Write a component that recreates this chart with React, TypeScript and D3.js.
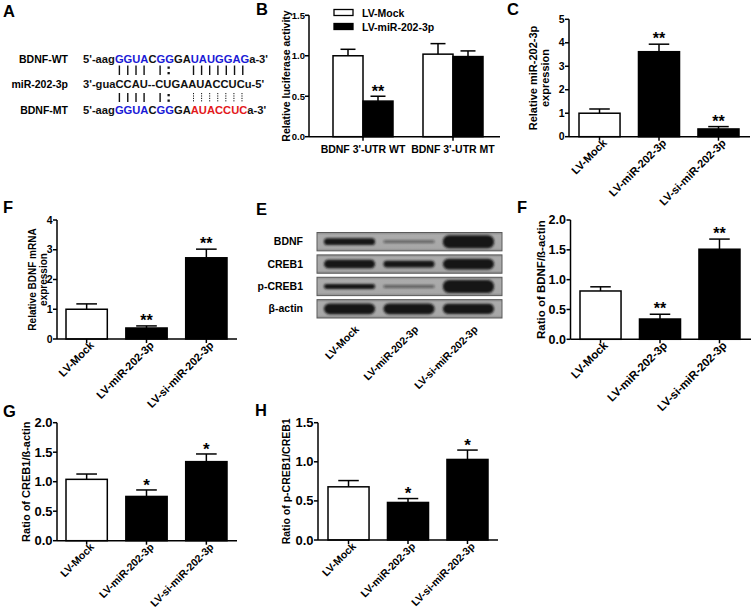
import React, { useLayoutEffect, useRef, useState } from "react";
import * as d3 from "d3";

const FONT = "'Liberation Sans', Arial, Helvetica, sans-serif";

// ---------- Panel A (sequence alignment) ----------
const seqLabels = ["BDNF-WT", "miR-202-3p", "BDNF-MT"];
const wtSegments: [string, string][] = [["5'-aag", "k"], ["GGUA", "b"], ["C", "k"], ["GG", "b"], ["GA", "k"], ["UAUGGAG", "b"], ["a-3'", "k"]];
const mirSegments: [string, string][] = [["3'-guaCCAU--CUGAAUACCUCu-5'", "k"]];
const mtSegments: [string, string][] = [["5'-aag", "k"], ["GGUA", "b"], ["C", "k"], ["GG", "b"], ["GA", "k"], ["AUACCUC", "r"], ["a-3'", "k"]];
const wtPairIdx = [6, 7, 8, 9, 11, 15, 16, 17, 18, 19, 20, 21];
const mirPairIdx = [6, 7, 8, 9, 12, 16, 17, 18, 19, 20, 21, 22];
const mtBroken = [false, false, false, false, false, true, true, true, true, true, true, true];
const wobbleWt = 12;
const wobbleMir = 13;

// ---------- Panel B ----------
const bGroups = ["BDNF 3'-UTR WT", "BDNF 3'-UTR MT"];
const bSeries = ["LV-Mock", "LV-miR-202-3p"];
const bMock = [1.0, 1.02];
const bMockErr = [0.08, 0.13];
const bMir = [0.44, 0.99];
const bMirErr = [0.06, 0.07];
const bMirSig = ["**", ""];
const bTicks = [0, 0.5, 1.0, 1.5];

// ---------- shared categories ----------
const groups = ["LV-Mock", "LV-miR-202-3p", "LV-si-miR-202-3p"];

// Panel C
const cVals = [1.0, 3.62, 0.33];
const cErr = [0.18, 0.32, 0.1];
const cSig = ["", "**", "**"];
const cTicks = [0, 1, 2, 3, 4, 5];

// Panel F (mRNA)
const fmVals = [1.0, 0.37, 2.73];
const fmErr = [0.18, 0.07, 0.29];
const fmSig = ["", "**", "**"];
const fmTicks = [0, 1, 2, 3, 4];

// Panel E (western blot) relative band intensities
const blotProteins = ["BDNF", "CREB1", "p-CREB1", "β-actin"];
const bandBDNF = [0.45, 0.12, 1.0];
const bandCREB1 = [0.62, 0.45, 0.8];
const bandPCREB1 = [0.3, 0.12, 1.0];
const bandActin = [0.8, 0.8, 0.75];

// Panel F (BDNF/β-actin)
const fbVals = [0.81, 0.34, 1.51];
const fbErr = [0.07, 0.08, 0.17];
const fbSig = ["", "**", "**"];
const fbTicks = [0, 0.5, 1.0, 1.5, 2.0];

// Panel G
const gVals = [1.04, 0.75, 1.34];
const gErr = [0.09, 0.11, 0.13];
const gSig = ["", "*", "*"];
const gTicks = [0, 0.5, 1.0, 1.5, 2.0];

// Panel H
const hVals = [0.68, 0.48, 1.03];
const hErr = [0.08, 0.05, 0.12];
const hSig = ["", "*", "*"];
const hTicks = [0, 0.5, 1.0, 1.5];

const SEQ_COLORS: Record<string, string> = { k: "#111", b: "#1a1ad6", r: "#e3191c" };

function Letter({ t, x, y }: { t: string; x: number; y: number }) {
  return (
    <text x={x} y={y} fontSize={16.5} fontWeight="bold" fontFamily={FONT}>
      {t}
    </text>
  );
}

function SequencePanel() {
  const wtRef = useRef<SVGTextElement>(null);
  const mirRef = useRef<SVGTextElement>(null);
  const mtRef = useRef<SVGTextElement>(null);
  const [pos, setPos] = useState<{ wt: number[]; mir: number[]; mt: number[] } | null>(null);
  useLayoutEffect(() => {
    const centers = (el: SVGTextElement | null) => {
      const out: number[] = [];
      if (!el) return out;
      const n = el.getNumberOfChars();
      for (let i = 0; i < n; i++) {
        const s = el.getStartPositionOfChar(i).x;
        const e = el.getEndPositionOfChar(i).x;
        out.push((s + e) / 2);
      }
      return out;
    };
    const measure = () => setPos({ wt: centers(wtRef.current), mir: centers(mirRef.current), mt: centers(mtRef.current) });
    measure();
    if ((document as any).fonts && (document as any).fonts.ready) (document as any).fonts.ready.then(measure);
  }, []);

  const seqX = 83;
  const rowsY = [62.5, 88, 114];
  const segs = [wtSegments, mirSegments, mtSegments];
  const refs = [wtRef, mirRef, mtRef];
  return (
    <g fontFamily={FONT} fontWeight="bold">
      {seqLabels.map((l, i) => (
        <text key={l} x={68} y={rowsY[i]} fontSize={10.5} textAnchor="end">
          {l}
        </text>
      ))}
      {segs.map((s, i) => (
        <text key={i} ref={refs[i]} x={seqX} y={rowsY[i]} fontSize={11.2}>
          {s.map(([t, c], j) => (
            <tspan key={j} fill={SEQ_COLORS[c]}>
              {t}
            </tspan>
          ))}
        </text>
      ))}
      {pos &&
        wtPairIdx.map((wi, k) => {
          const x1 = (pos.wt[wi] + pos.mir[mirPairIdx[k]]) / 2;
          const x2 = (pos.mt[wi] + pos.mir[mirPairIdx[k]]) / 2;
          return (
            <g key={k}>
              <line x1={x1} x2={x1} y1={65.5} y2={75} stroke="#111" strokeWidth={1.4} />
              <line
                x1={x2}
                x2={x2}
                y1={93}
                y2={102}
                stroke="#111"
                strokeWidth={mtBroken[k] ? 1 : 1.4}
                strokeDasharray={mtBroken[k] ? "1.2,1.2" : undefined}
              />
            </g>
          );
        })}
      {pos &&
        [0, 1].map((g) => {
          const x = g === 0 ? (pos.wt[wobbleWt] + pos.mir[wobbleMir]) / 2 : (pos.mt[wobbleWt] + pos.mir[wobbleMir]) / 2;
          const yb = g === 0 ? 66.5 : 94;
          return (
            <g key={g}>
              <rect x={x - 1} y={yb} width={2.3} height={2.3} fill="#111" />
              <rect x={x - 1} y={yb + 5.5} width={2.3} height={2.3} fill="#111" />
            </g>
          );
        })}
    </g>
  );
}

function PanelB() {
  const axisX = 309;
  const axisEnd = 500;
  const y0 = 136.7;
  const y = d3.scaleLinear().domain([0, 1.5]).range([y0, 15.3]);
  const gx = d3.scaleBand().domain(bGroups).range([333, 483]).paddingInner(1 / 3);
  const sx = d3.scaleBand().domain(bSeries).range([0, gx.bandwidth()]);
  const series = [
    { name: bSeries[0], vals: bMock, errs: bMockErr, fill: "#fff", sig: ["", ""] },
    { name: bSeries[1], vals: bMir, errs: bMirErr, fill: "#000", sig: bMirSig },
  ];
  const bw = sx.bandwidth();
  return (
    <g fontFamily={FONT} fontWeight="bold">
      {series.map((s) =>
        s.vals.map((v, i) => {
          const x = (gx(bGroups[i]) as number) + (sx(s.name) as number);
          const cx = x + bw / 2;
          const yt = y(v);
          const ye = y(v + s.errs[i]);
          return (
            <g key={s.name + i}>
              <line x1={cx} x2={cx} y1={yt} y2={ye} stroke="#000" strokeWidth={1.5} />
              <line x1={cx - bw / 4} x2={cx + bw / 4} y1={ye} y2={ye} stroke="#000" strokeWidth={1.5} />
              <rect x={x} y={yt} width={bw} height={y0 - yt} fill={s.fill} stroke="#000" strokeWidth={1.5} />
              {s.sig[i] && (
                <text x={cx} y={ye - 8 + 0.575 * 16} fontSize={16} textAnchor="middle">
                  {s.sig[i]}
                </text>
              )}
            </g>
          );
        })
      )}
      <line x1={axisX} x2={axisX} y1={y(1.5)} y2={y0} stroke="#000" strokeWidth={1.5} />
      <line x1={axisX} x2={axisEnd} y1={y0} y2={y0} stroke="#000" strokeWidth={1.5} />
      {bTicks.map((t) => (
        <g key={t}>
          <line x1={axisX - 4} x2={axisX} y1={y(t)} y2={y(t)} stroke="#000" strokeWidth={1.5} />
          <text x={axisX - 4} y={y(t)} dy="0.35em" fontSize={9.5} textAnchor="end">
            {d3.format(".1f")(t)}
          </text>
        </g>
      ))}
      {bGroups.map((g) => {
        const cx = (gx(g) as number) + gx.bandwidth() / 2;
        return (
          <g key={g}>
            <line x1={cx} x2={cx} y1={y0} y2={y0 + 4} stroke="#000" strokeWidth={1.5} />
            <text x={cx} y={153} fontSize={10.5} textAnchor="middle">
              {g}
            </text>
          </g>
        );
      })}
      <text transform={`translate(286,${(y(1.5) + y0) / 2}) rotate(-90)`} fontSize={10.5} textAnchor="middle" dy="0.35em">
        Relative luciferase activity
      </text>
      {series.map((s, i) => (
        <g key={s.name}>
          <rect x={334} y={9.5 + i * 14} width={19} height={6} fill={s.fill} stroke="#000" strokeWidth={1.3} />
          <text x={362} y={16.5 + i * 14} fontSize={10.5}>
            {s.name}
          </text>
        </g>
      ))}
    </g>
  );
}

type BarProps = {
  axisX: number;
  axisEnd: number;
  y0: number;
  yTop: number;
  max: number;
  ticks: number[];
  fmt: string;
  vals: number[];
  errs: number[];
  sigs: string[];
  barL: number;
  barR: number;
  yLabel: string[];
  yLabelX: number[];
  yLabelSize: number;
  tickSize: number;
  xSize: number;
  sigSize: number;
};

function BarPanel(p: BarProps) {
  const y = d3.scaleLinear().domain([0, p.max]).range([p.y0, p.yTop]);
  const x = d3.scaleBand().domain(groups).range([p.barL, p.barR]).paddingInner(0.31);
  const bw = x.bandwidth();
  const fmt = d3.format(p.fmt);
  const cy = (p.y0 + p.yTop) / 2;
  return (
    <g fontFamily={FONT} fontWeight="bold">
      {p.vals.map((v, i) => {
        const g = groups[i];
        const bx = x(g) as number;
        const cx = bx + bw / 2;
        const yt = y(v);
        const ye = y(v + p.errs[i]);
        return (
          <g key={g}>
            <line x1={cx} x2={cx} y1={yt} y2={ye} stroke="#000" strokeWidth={1.5} />
            <line x1={cx - bw / 4} x2={cx + bw / 4} y1={ye} y2={ye} stroke="#000" strokeWidth={1.5} />
            <rect x={bx} y={yt} width={bw} height={p.y0 - yt} fill={i === 0 ? "#fff" : "#000"} stroke="#000" strokeWidth={1.5} />
            {p.sigs[i] && (
              <text x={cx} y={ye - 9 + 0.575 * p.sigSize} fontSize={p.sigSize} textAnchor="middle">
                {p.sigs[i]}
              </text>
            )}
            <line x1={cx} x2={cx} y1={p.y0} y2={p.y0 + 4} stroke="#000" strokeWidth={1.5} />
            <text transform={`translate(${cx + 8},${p.y0 + 7}) rotate(-45)`} fontSize={p.xSize} textAnchor="end">
              {g}
            </text>
          </g>
        );
      })}
      <line x1={p.axisX} x2={p.axisX} y1={p.yTop} y2={p.y0} stroke="#000" strokeWidth={1.5} />
      <line x1={p.axisX} x2={p.axisEnd} y1={p.y0} y2={p.y0} stroke="#000" strokeWidth={1.5} />
      {p.ticks.map((t) => (
        <g key={t}>
          <line x1={p.axisX - 4} x2={p.axisX} y1={y(t)} y2={y(t)} stroke="#000" strokeWidth={1.5} />
          <text x={p.axisX - 4.5} y={y(t)} dy="0.35em" fontSize={p.tickSize} textAnchor="end">
            {fmt(t)}
          </text>
        </g>
      ))}
      {p.yLabel.map((l, i) => (
        <text
          key={l}
          transform={`translate(${p.yLabelX[i]},${cy}) rotate(-90)`}
          fontSize={p.yLabelSize}
          textAnchor="middle"
          dy="0.35em"
        >
          {l}
        </text>
      ))}
    </g>
  );
}

function Blot() {
  const rows = d3.scaleBand().domain(blotProteins).range([232.5, 318]).paddingInner(0.18);
  const lanes = d3.scaleBand().domain(groups).range([321, 497]).paddingInner(0.04);
  const intens = [bandBDNF, bandCREB1, bandPCREB1, bandActin];
  const thick = d3.scaleLinear().domain([0, 1]).range([1.5, 13]);
  const stripL = 317;
  const stripR = 502;
  return (
    <g fontFamily={FONT} fontWeight="bold">
      <defs>
        <filter id="bandBlur" x="-20%" y="-80%" width="140%" height="260%">
          <feGaussianBlur stdDeviation="1.2" />
        </filter>
        <linearGradient id="stripGrad" x1="0" x2="0" y1="0" y2="1">
          <stop offset="0" stopColor="#8c8c8c" />
          <stop offset="0.15" stopColor="#ababab" />
          <stop offset="0.85" stopColor="#a7a7a7" />
          <stop offset="1" stopColor="#8a8a8a" />
        </linearGradient>
      </defs>
      {blotProteins.map((pName, r) => {
        const ry = rows(pName) as number;
        const rh = rows.bandwidth();
        const cy = ry + rh / 2;
        return (
          <g key={pName}>
            <text x={303} y={cy} dy="0.35em" fontSize={10.5} textAnchor="end">
              {pName}
            </text>
            <rect x={stripL} y={ry} width={stripR - stripL} height={rh} fill="url(#stripGrad)" stroke="#5a5a5a" strokeWidth={1} />
            <g filter="url(#bandBlur)">
              {intens[r].map((v, l) => {
                const lx = lanes(groups[l]) as number;
                const w = lanes.bandwidth();
                const h = thick(v);
                return (
                  <rect
                    key={l}
                    x={lx + 3}
                    y={cy - h / 2}
                    width={w - 6}
                    height={h}
                    rx={Math.min(h / 2, 6)}
                    fill="#141414"
                    opacity={v < 0.2 ? 0.5 : 1}
                  />
                );
              })}
            </g>
          </g>
        );
      })}
      {groups.map((g) => {
        const cx = (lanes(g) as number) + lanes.bandwidth() / 2;
        return (
          <text key={g} transform={`translate(${cx + 10},${330}) rotate(-45)`} fontSize={10.5} textAnchor="end">
            {g}
          </text>
        );
      })}
    </g>
  );
}

export default function App() {
  return (
    <svg width={753} height={612} style={{ position: "absolute", left: 0, top: 0, background: "#fff" }}>
      <rect width={753} height={612} fill="#fff" />
      <Letter t="A" x={3} y={17} />
      <SequencePanel />
      <Letter t="B" x={256} y={15} />
      <PanelB />
      <Letter t="C" x={507} y={15} />
      <BarPanel
        axisX={569}
        axisEnd={750}
        y0={136.7}
        yTop={19.3}
        max={5}
        ticks={cTicks}
        fmt="d"
        vals={cVals}
        errs={cErr}
        sigs={cSig}
        barL={579}
        barR={739}
        yLabel={["Relative miR-202-3p", "expression"]}
        yLabelX={[533, 545]}
        yLabelSize={11}
        tickSize={10.5}
        xSize={11}
        sigSize={16}
      />
      <Letter t="F" x={3} y={213} />
      <BarPanel
        axisX={57}
        axisEnd={237}
        y0={339}
        yTop={220}
        max={4}
        ticks={fmTicks}
        fmt="d"
        vals={fmVals}
        errs={fmErr}
        sigs={fmSig}
        barL={66}
        barR={227}
        yLabel={["Relative BDNF mRNA", "expression"]}
        yLabelX={[32, 43.5]}
        yLabelSize={10}
        tickSize={10.5}
        xSize={11}
        sigSize={16}
      />
      <Letter t="E" x={256} y={215} />
      <Blot />
      <Letter t="F" x={517} y={213} />
      <BarPanel
        axisX={570.5}
        axisEnd={751}
        y0={339.3}
        yTop={220}
        max={2}
        ticks={fbTicks}
        fmt=".1f"
        vals={fbVals}
        errs={fbErr}
        sigs={fbSig}
        barL={580}
        barR={740}
        yLabel={["Ratio of BDNF/ß-actin"]}
        yLabelX={[541]}
        yLabelSize={11.5}
        tickSize={12.5}
        xSize={11.5}
        sigSize={16}
      />
      <Letter t="G" x={3} y={417} />
      <BarPanel
        axisX={57}
        axisEnd={237}
        y0={540.7}
        yTop={422.7}
        max={2}
        ticks={gTicks}
        fmt=".1f"
        vals={gVals}
        errs={gErr}
        sigs={gSig}
        barL={66}
        barR={227}
        yLabel={["Ratio of CREB1/ß-actin"]}
        yLabelX={[26.5]}
        yLabelSize={11}
        tickSize={13}
        xSize={10.5}
        sigSize={17}
      />
      <Letter t="H" x={255} y={416} />
      <BarPanel
        axisX={318}
        axisEnd={498}
        y0={540}
        yTop={422.7}
        max={1.5}
        ticks={hTicks}
        fmt=".1f"
        vals={hVals}
        errs={hErr}
        sigs={hSig}
        barL={328}
        barR={488}
        yLabel={["Ratio of p-CREB1/CREB1"]}
        yLabelX={[286.5]}
        yLabelSize={10.5}
        tickSize={13}
        xSize={10.5}
        sigSize={17}
      />
    </svg>
  );
}
